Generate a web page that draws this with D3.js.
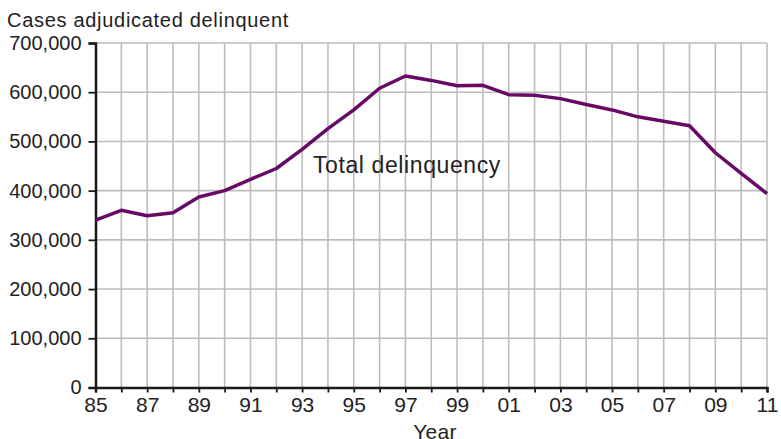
<!DOCTYPE html>
<html>
<head>
<meta charset="utf-8">
<script src="https://cdn.jsdelivr.net/npm/d3@7"></script>
<style>
  html, body { margin: 0; padding: 0; background: #fff; }
  svg { display: block; font-family: "Liberation Sans", Arial, Helvetica, sans-serif; }
</style>
</head>
<body>
<svg id="chart" width="781" height="439"></svg>
<script>
// Juvenile cases adjudicated delinquent, 1985–2011
const years = d3.range(1985, 2012);
const cases = [
  340000, 360000, 349000, 355000, 387000, 400000, 423000, 445000, 484000,
  526000, 564000, 608000, 633000, 624000, 613000, 614000, 595000, 594000,
  587000, 575000, 564000, 550000, 541000, 532000, 477000, 435000, 394000
];
const yTicks = [0, 100000, 200000, 300000, 400000, 500000, 600000, 700000];
const yTitle = "Cases adjudicated delinquent";
const xTitle = "Year";
const seriesLabel = "Total delinquency";

const svg = d3.select("#chart");
const margin = { left: 95.5, right: 14, top: 43, bottom: 51.5 };
const W = 781, H = 439;

const x = d3.scaleLinear()
  .domain([1985, 2011])
  .range([margin.left, W - margin.right]);
const y = d3.scaleLinear()
  .domain([0, 700000])
  .range([H - margin.bottom, margin.top]);

const grid = svg.append("g").attr("stroke", "#bdbdbd").attr("stroke-width", 1.6);
// vertical grid at every year
grid.selectAll("line.v").data(years.slice(1)).join("line")
  .attr("x1", d => x(d)).attr("x2", d => x(d))
  .attr("y1", y(700000)).attr("y2", y(0));
// horizontal grid at every 100,000
grid.selectAll("line.h").data(yTicks.slice(1)).join("line")
  .attr("x1", x(1985)).attr("x2", x(2011))
  .attr("y1", d => y(d)).attr("y2", d => y(d));

// y axis
const yAxis = svg.append("g")
  .attr("transform", `translate(${x(1985)},0)`)
  .call(d3.axisLeft(y).tickValues(yTicks).tickSize(7).tickPadding(7)
    .tickFormat(d3.format(",")));
yAxis.select(".domain").attr("stroke", "#1a1a1a").attr("stroke-width", 2.5);
yAxis.selectAll(".tick line").attr("stroke", "#1a1a1a").attr("stroke-width", 1.8);
yAxis.selectAll(".tick text").attr("font-size", 20).attr("fill", "#222")
  .attr("font-family", "Liberation Sans, Arial, sans-serif");

// x axis: a tick every year, labels on odd years
const xAxis = svg.append("g")
  .attr("transform", `translate(0,${y(0)})`)
  .call(d3.axisBottom(x).tickValues(years).tickSize(5).tickPadding(4.5)
    .tickFormat(d => (d % 2 === 1) ? String(d).slice(2) : ""));
xAxis.select(".domain").attr("stroke", "#1a1a1a").attr("stroke-width", 2.5);
xAxis.selectAll(".tick line").attr("stroke", "#1a1a1a").attr("stroke-width", 1.8);
xAxis.selectAll(".tick text").attr("font-size", 21).attr("fill", "#222")
  .attr("font-family", "Liberation Sans, Arial, sans-serif");

// series line
const line = d3.line().x((d, i) => x(years[i])).y(d => y(d));
svg.append("path")
  .datum(cases)
  .attr("d", line)
  .attr("fill", "none")
  .attr("stroke", "#660a66")
  .attr("stroke-width", 3.5)
  .attr("stroke-linejoin", "round");

// titles and labels
svg.append("text")
  .attr("x", 7).attr("y", 27)
  .attr("font-size", 20).attr("letter-spacing", 0.7).attr("fill", "#222")
  .text(yTitle);

svg.append("text")
  .attr("x", 435).attr("y", 439)
  .attr("text-anchor", "middle")
  .attr("font-size", 21).attr("letter-spacing", 0.3).attr("fill", "#222")
  .text(xTitle);

svg.append("text")
  .attr("x", 313).attr("y", 173)
  .attr("font-size", 23).attr("letter-spacing", 0.6).attr("fill", "#222")
  .text(seriesLabel);
</script>
</body>
</html>
